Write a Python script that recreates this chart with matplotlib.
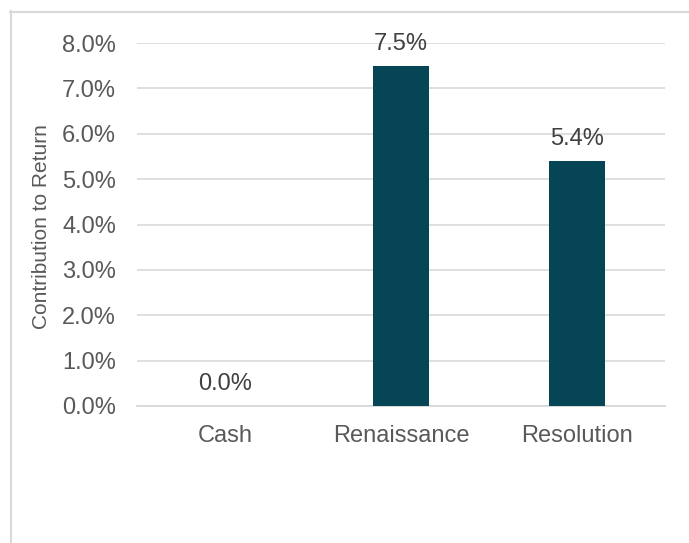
import matplotlib.pyplot as plt
from matplotlib.lines import Line2D
from matplotlib.ticker import FuncFormatter

plt.rcParams['font.family'] = ['Liberation Sans', 'DejaVu Sans']

categories = ['Cash', 'Renaissance', 'Resolution']
values = [0.0, 7.5, 5.4]
yticks = [0, 1, 2, 3, 4, 5, 6, 7, 8]

bar_color = '#064556'
grid_color = '#d9d9d9'
tick_color = '#595959'

fig = plt.figure(figsize=(6.89, 5.43), dpi=100)
ax = fig.add_axes([137 / 689, 1 - 406 / 543, 528 / 689, 363 / 543])

x = range(len(categories))
bars = ax.bar(x, values, width=0.318, color=bar_color, zorder=3)

ax.set_xlim(-0.5, len(categories) - 0.5)
ax.set_ylim(0, 8)
ax.set_yticks(yticks)
ax.yaxis.set_major_formatter(FuncFormatter(lambda v, p: f'{v:.1f}%'))
ax.set_xticks(list(x))
ax.set_xticklabels(categories)

ax.grid(axis='y', color=grid_color, linewidth=1.2, zorder=0)
for s in ['top', 'right', 'left']:
    ax.spines[s].set_visible(False)
ax.spines['bottom'].set_color(grid_color)
ax.spines['bottom'].set_linewidth(1.4)
ax.tick_params(axis='y', length=0, pad=15, labelsize=17, labelcolor=tick_color)
ax.tick_params(axis='x', length=0, pad=14, labelsize=17, labelcolor=tick_color)

# value labels, baseline ~16px above the bar top
for b, v in zip(bars, values):
    ax.annotate(f'{v:.1f}%', (b.get_x() + b.get_width() / 2, v),
                xytext=(0, 11.5), textcoords='offset points',
                ha='center', va='baseline', fontsize=17, color='#404040')

fig.text(42 / 689, 1 - 227 / 543, 'Contribution to Return', rotation=90,
         ha='center', va='center', fontsize=15, color=tick_color)

# outer frame
fig.add_artist(Line2D([10.5 / 689, 10.5 / 689], [0, 1 - 11 / 543],
                      transform=fig.transFigure, color=grid_color, linewidth=1.5))
fig.add_artist(Line2D([10 / 689, 1], [1 - 11.5 / 543, 1 - 11.5 / 543],
                      transform=fig.transFigure, color=grid_color, linewidth=1.5))

fig.savefig('out.png', dpi=100)
